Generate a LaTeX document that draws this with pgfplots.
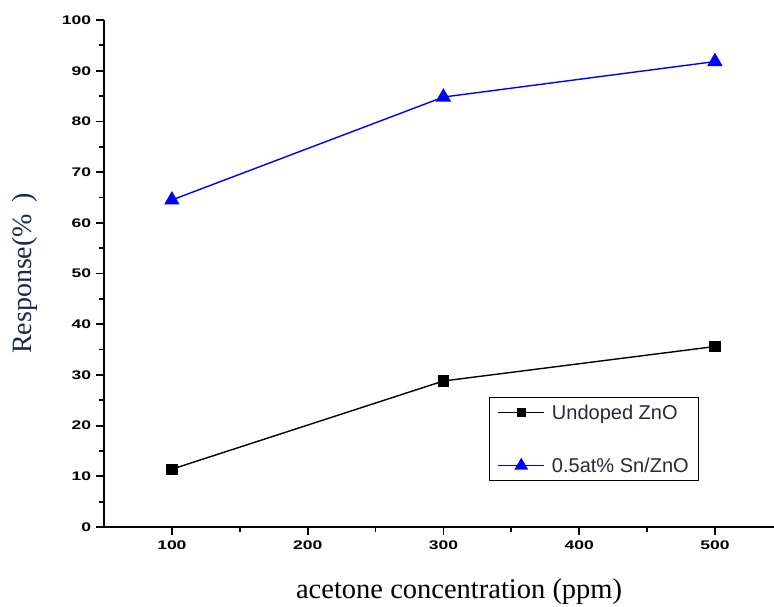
\documentclass[border=0pt]{standalone}
\usepackage{fontspec}
\setmainfont{Liberation Serif}
\newfontfamily\arial{Liberation Sans}
\usepackage{pgfplots}
\pgfplotsset{compat=1.18}
\definecolor{ylab}{RGB}{25,40,80}
\definecolor{legtxt}{RGB}{40,40,55}
\begin{document}
\begin{tikzpicture}
\begin{axis}[
  scale only axis,
  width=670pt, height=507pt,
  xmin=50, xmax=543.5, ymin=0, ymax=100,
  axis lines*=left,
  axis line style={line width=1.8pt,-},
  xtick={100,200,300,400,500},
  ytick={0,10,...,100},
  minor x tick num=1,
  minor y tick num=1,
  tick align=outside,
  major tick length=8pt,
  minor tick length=5pt,
  major tick style={line width=1.8pt,black},
  minor tick style={line width=1.8pt,black},
  /pgf/number format/assume math mode=true,
  ticklabel style={font=\arial\bfseries\fontsize{12.5}{14}\selectfont, xscale=1.4},
  xticklabel style={yshift=-2pt},
  xlabel={acetone concentration (ppm)},
  ylabel={Response(\%~\,)},
  xlabel style={font=\fontsize{28.5}{32}\selectfont, at={(axis description cs:0.53,-0.128)}, anchor=center},
  ylabel style={font=\fontsize{28}{32}\selectfont, color=ylab, at={(axis description cs:-0.118,0.5)}, anchor=center},
  legend style={at={(rel axis cs:0.5746,0.2564)}, anchor=north west,
    draw=black, line width=1.2pt, font=\arial\fontsize{20}{23}\selectfont, text=legtxt,
    row sep=33pt, column sep=5pt, inner xsep=8pt, inner ysep=5pt, legend cell align=left},
  legend image code/.code={\draw[mark repeat=2,mark phase=2,#1] plot coordinates {(0pt,0pt)(23pt,0pt)(46pt,0pt)};},
]
\addplot[black, line width=1.4pt, mark=square*, mark size=5pt, mark options={solid}, legend image post style={mark size=3.8pt}] coordinates {(100,11.4) (300,28.8) (500,35.6)};
\addlegendentry{Undoped ZnO}
\addplot[blue, line width=1.4pt, mark=triangle*, mark size=7.5pt, mark options={solid}, legend image post style={mark size=6.5pt}] coordinates {(100,64.5) (300,84.8) (500,91.8)};
\addlegendentry{0.5at\% Sn/ZnO}
\coordinate (O) at (rel axis cs:0,0);
\end{axis}
\pgfresetboundingbox
\path[use as bounding box] (O) ++(-104pt,-79pt) rectangle ++(774pt,606pt);
\end{tikzpicture}
\end{document}
